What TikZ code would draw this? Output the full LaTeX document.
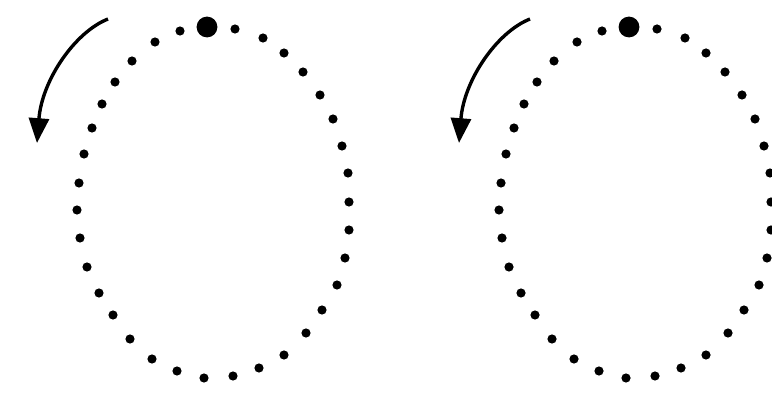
\documentclass[tikz,border=0pt]{standalone}
\usepackage{amsmath,amssymb}
\usepackage{tikz}
\usetikzlibrary{arrows.meta}

\begin{document}
\begin{tikzpicture}[x=0.025cm,y=-0.025cm,
                    smalldot/.style={circle,fill=black,inner sep=0pt,minimum size=0.23cm},
                    bigdot/.style={circle,fill=black,inner sep=0pt,minimum size=0.52cm},
                    turn/.style={line width=2.4pt,-{Triangle[length=0.62cm,width=0.5cm]}}]
  \useasboundingbox (0,0) rectangle (772,394);
  \foreach \s/\dx in {a/0,b/422} {
    \node[bigdot] (\s0) at (207+\dx,27) {};
    \foreach \x/\y [count=\n] in {235/29,263/38,284/53,303/72,320/95,333/119,342/146,
        348/173,349/202,349/230,345/258,337/285,322/310,306/333,284/355,259/368,
        233/376,204/378,177/371,152/359,130/339,113/315,99/293,87/267,80/238,
        77/210,79/183,84/154,92/128,102/104,115/82,132/61,155/42,180/31}
      \node[smalldot] (\s\n) at (\x+\dx,\y) {};
    \coordinate (\s from) at (108+\dx,19);
    \coordinate (\s to)   at (37+\dx,143);
    \draw[turn] (\s from) .. controls (75+\dx,32) and (42+\dx,80) .. (\s to);
  }
\end{tikzpicture}
\end{document}
